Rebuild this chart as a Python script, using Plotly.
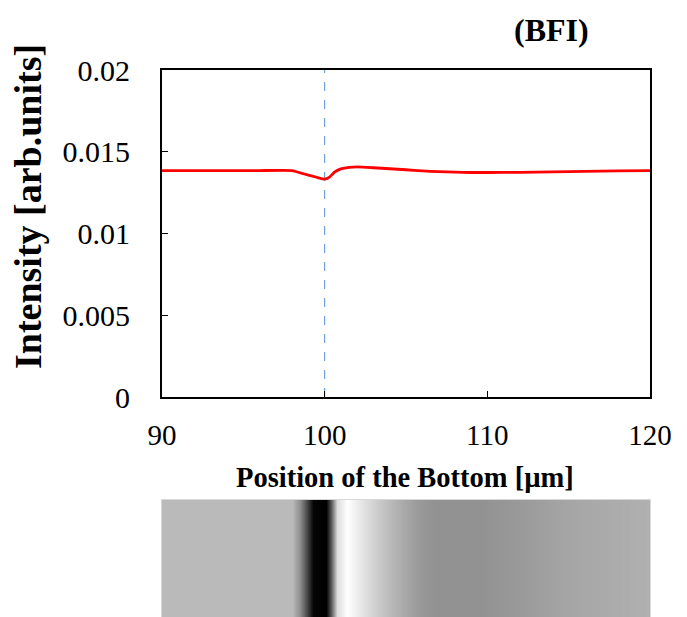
import plotly.graph_objects as go

# Intensity profile (BFI)
pos = [90, 92, 94, 96, 98, 98.5, 99, 99.5, 100, 100.3, 100.6, 101, 101.5, 102, 103,
       104, 105, 106, 107, 108, 109, 110, 112, 114, 116, 118, 120]
intensity = [0.01385, 0.01385, 0.01385, 0.01385, 0.01385, 0.01371, 0.01357, 0.01344,
             0.01332, 0.01345, 0.01375, 0.01395, 0.01405, 0.01407, 0.01402,
             0.01396, 0.01390, 0.01383, 0.01378, 0.01375, 0.01373, 0.01373,
             0.01374, 0.01377, 0.01380, 0.01383, 0.01385]

marker_pos = 100

# Grayscale image strip (gray level 0-255 vs position)
strip_x = [90, 98.0, 98.5, 98.9, 99.3, 100.1, 100.4, 100.75, 101.4, 102.4, 103.6, 104.4,
           105.7, 106.7, 109.7, 111.8, 114.9, 118.0, 120]
strip_gray = [186, 186, 140, 70, 5, 0, 90, 220, 255, 225, 195, 178,
              155, 146, 146, 153, 165, 172, 176]

x_ticks = [90, 100, 110, 120]
y_ticks = [0, 0.005, 0.01, 0.015, 0.02]
y_ticktext = ["0", "0.005", "0.01", "0.015", "0.02"]

W, H = 687, 617
L, R, T, B = 162, 37, 70, 0
ph = H - T - B

def py(pix):
    return (H - B - pix) / ph

def px(pix):
    return (pix - L) / (W - L - R)

serif = "Liberation Serif"

fig = go.Figure()
fig.add_trace(go.Scatter(x=[marker_pos, marker_pos], y=[0, 0.02], mode="lines",
                         line=dict(color="#5b8fd0", width=1, dash="dash"),
                         xaxis="x", yaxis="y", showlegend=False, hoverinfo="skip"))
fig.add_trace(go.Scatter(x=pos, y=intensity, mode="lines",
                         line=dict(color="#ff0000", width=2.8, shape="spline", smoothing=0.3),
                         xaxis="x", yaxis="y", showlegend=False))
fig.add_trace(go.Heatmap(x=strip_x, y=[0, 1], z=[strip_gray, strip_gray],
                         colorscale=[[0, "black"], [1, "white"]], zmin=0, zmax=255,
                         zsmooth="best", showscale=False, xaxis="x2", yaxis="y2",
                         hoverinfo="skip"))

fig.update_layout(
    template="none",
    width=W, height=H,
    margin=dict(l=L, r=R, t=T, b=B, autoexpand=False),
    paper_bgcolor="white", plot_bgcolor="white",
    font=dict(family=serif, color="black"),
    xaxis=dict(domain=[0, 1], anchor="y", range=[90, 120], tickvals=x_ticks,
               ticks="inside", ticklen=6, tickcolor="black", showgrid=False,
               zeroline=False, showline=True, linecolor="black", linewidth=2,
               mirror=True, tickfont=dict(size=29, family=serif), ticklabelstandoff=11,
               automargin=False),
    yaxis=dict(domain=[py(397), 1], anchor="x", range=[0, 0.02], tickvals=y_ticks,
               ticktext=y_ticktext, ticks="inside", ticklen=6, tickcolor="black",
               showgrid=False, zeroline=False, showline=True, linecolor="black",
               linewidth=2, mirror=True, tickfont=dict(size=30, family=serif),
               ticklabelstandoff=24, automargin=False),
    xaxis2=dict(domain=[0, 1], anchor="y2", range=[90, 120], showticklabels=False,
                showgrid=False, zeroline=False, ticks="", showline=True,
                linecolor="#d8d8d8", linewidth=1, mirror=True, automargin=False),
    yaxis2=dict(domain=[0, py(500)], anchor="x2", range=[0, 1], showticklabels=False,
                showgrid=False, zeroline=False, ticks="", showline=True,
                linecolor="#d8d8d8", linewidth=1, mirror=True, automargin=False),
    annotations=[
        dict(text="<b>(BFI)</b>", x=px(551), y=py(30), xref="paper", yref="paper",
             xanchor="center", yanchor="middle", showarrow=False,
             font=dict(size=32, family=serif)),
        dict(text="<b>Position of the Bottom [µm]</b>", x=px(405), y=py(477),
             xref="paper", yref="paper", xanchor="center", yanchor="middle",
             showarrow=False, font=dict(size=28.5, family=serif)),
        dict(text="<b>Intensity [arb.units]</b>", x=px(28), y=py(207), textangle=-90,
             xref="paper", yref="paper", xanchor="center", yanchor="middle",
             showarrow=False, font=dict(size=38, family=serif)),
    ],
)

fig.write_html("out.html")
